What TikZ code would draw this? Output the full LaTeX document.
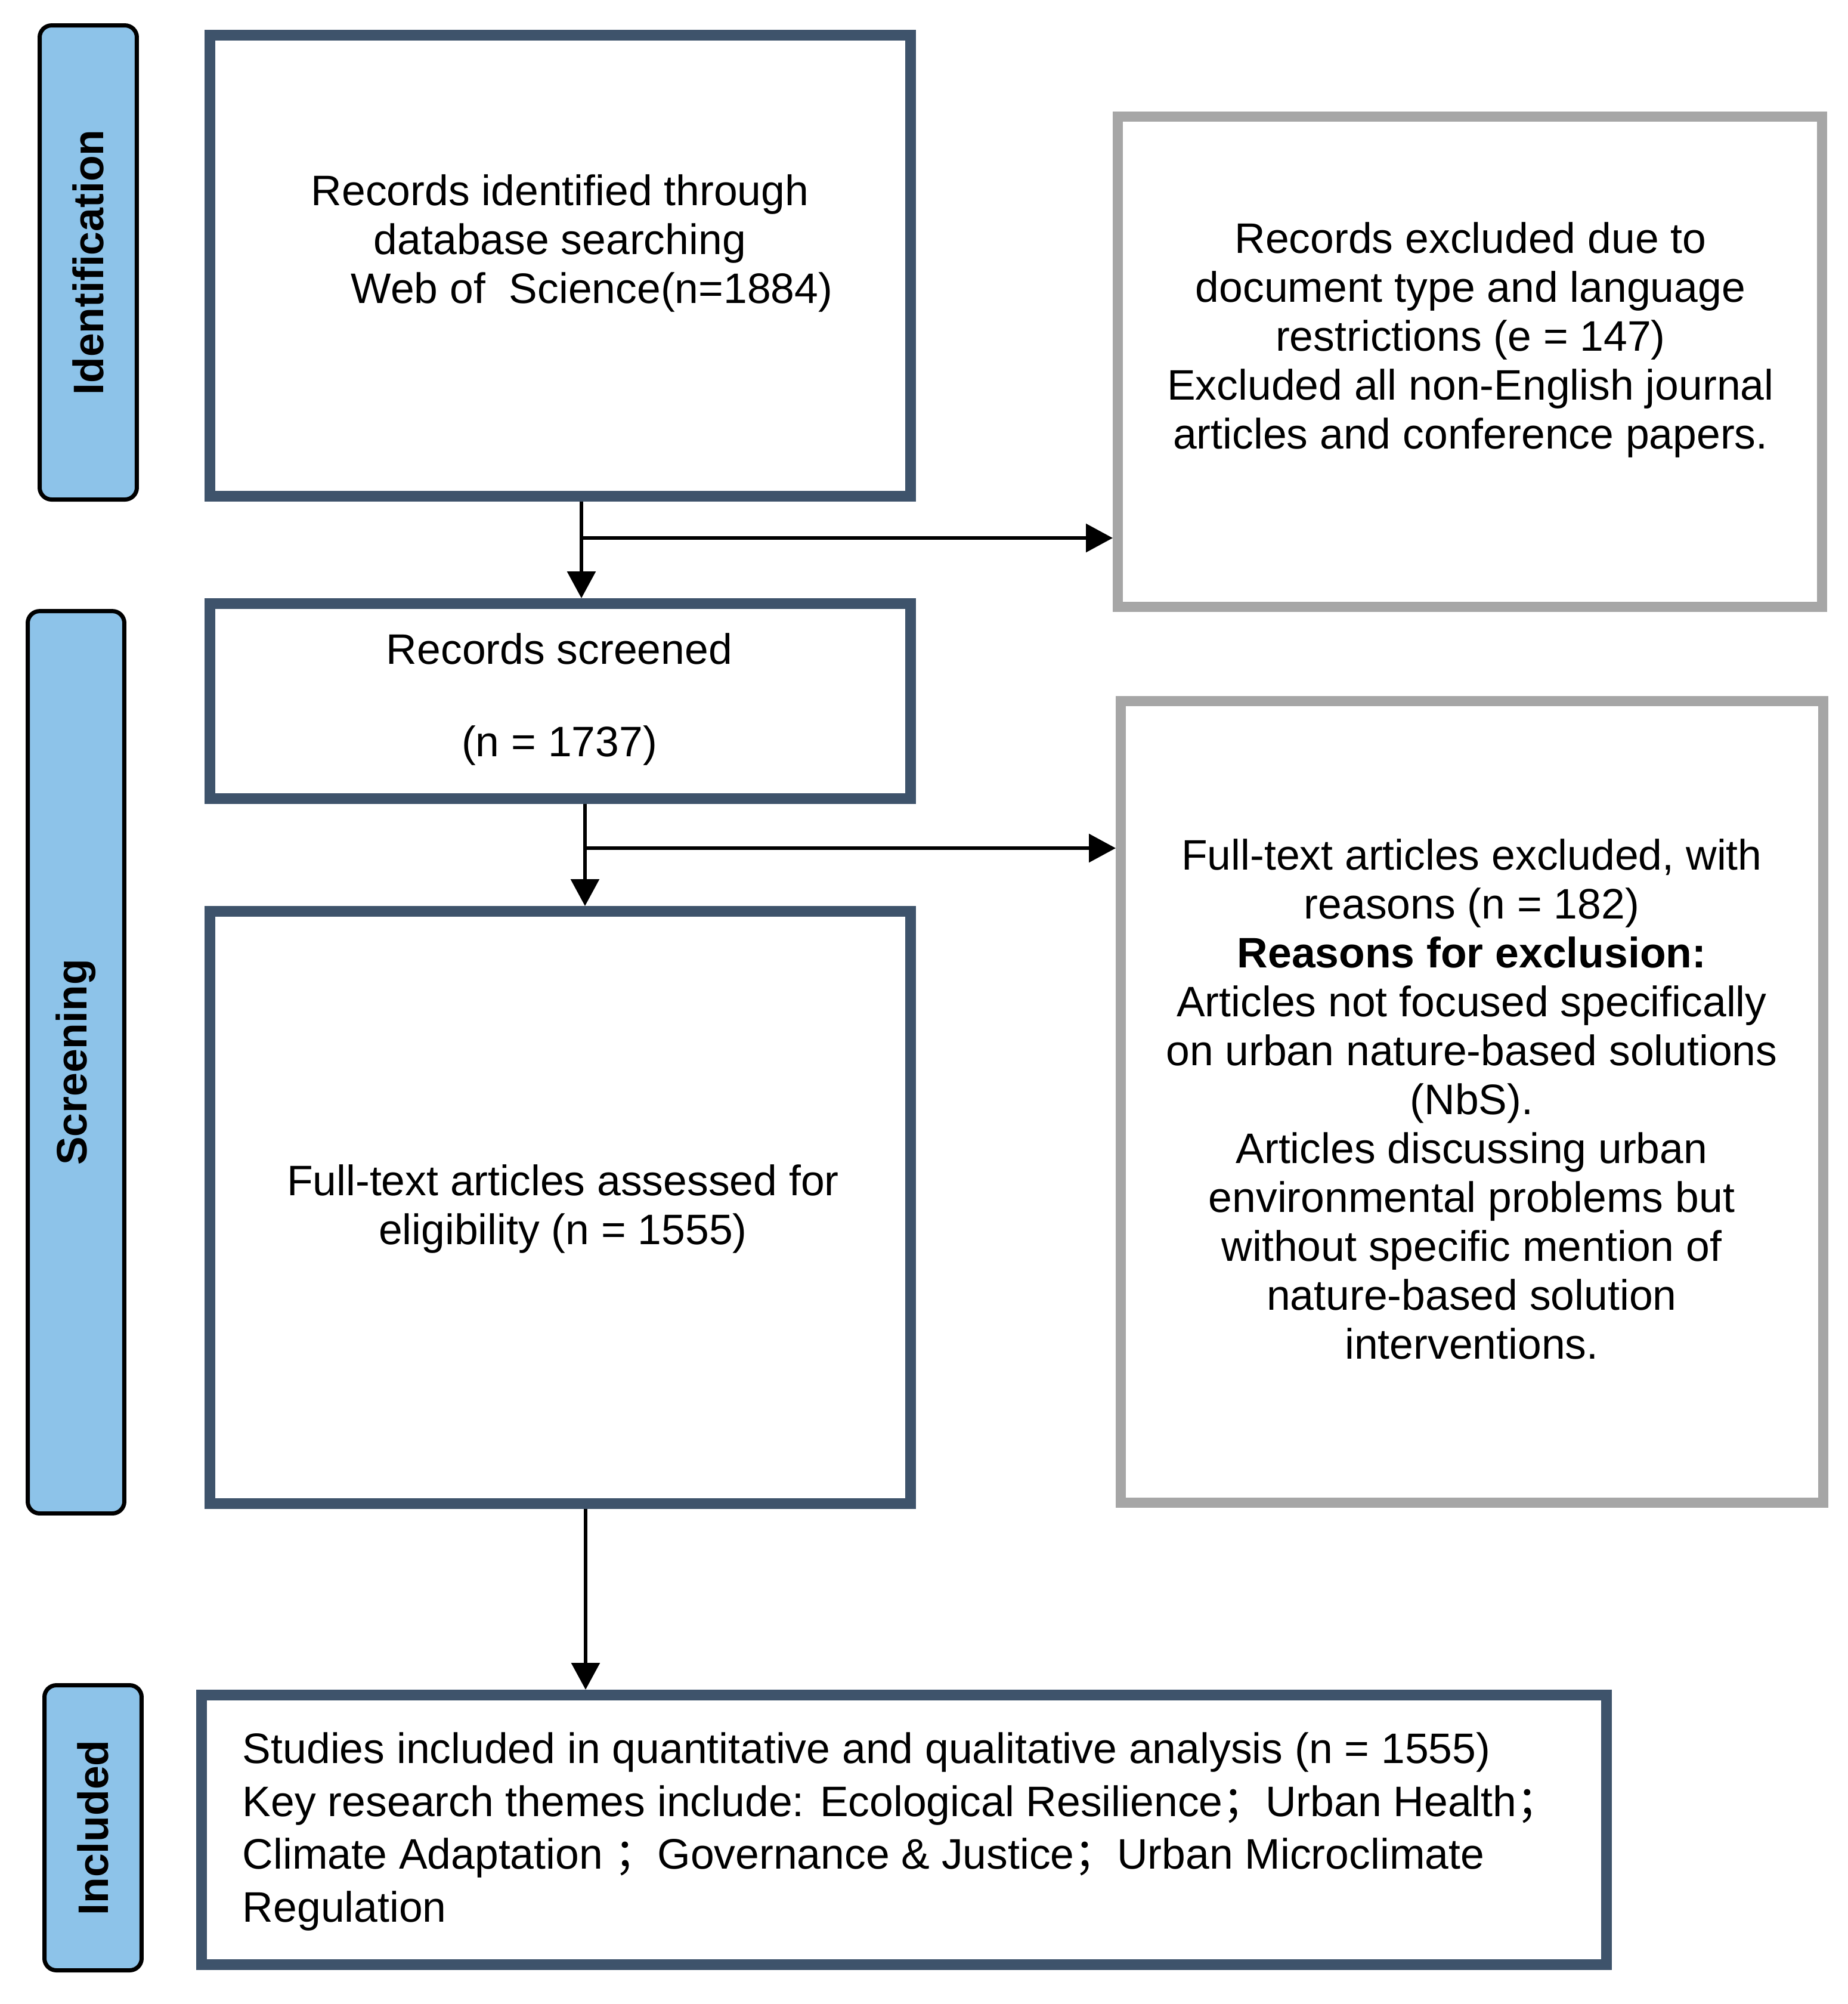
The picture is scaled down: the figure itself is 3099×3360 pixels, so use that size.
\documentclass[tikz,border=0pt]{standalone}
\usepackage{fontspec}
\setmainfont{Liberation Sans}
\newfontfamily\cjkf{Noto Sans CJK SC}
\usetikzlibrary{arrows.meta}
\definecolor{boxblue}{HTML}{3E536B}
\definecolor{tabfill}{HTML}{8DC3E9}
\definecolor{exgray}{HTML}{A6A6A6}
\begin{document}
\begin{tikzpicture}[x=0.1pt,y=-0.1pt,
  mainbox/.style={draw=boxblue,line width=1.8pt,fill=white,inner sep=0pt},
  graybox/.style={draw=exgray,line width=1.7pt,fill=white,inner sep=0pt},
  tab/.style={draw=black,line width=0.7pt,fill=tabfill,rounded corners=2pt,rotate=90,inner sep=0pt,
    font=\fontsize{7.15}{8.2}\selectfont\bfseries},
  txt/.style={inner sep=0pt,font=\fontsize{7.15}{8.2}\selectfont},
  arr/.style={draw=black,line width=0.6pt,-{Triangle[length=4.5pt,width=4.7pt]}}]
\useasboundingbox (0,0) rectangle (3099,3360);
% phase tabs
\node[tab,minimum width=79.5pt,minimum height=16.3pt] (tabI) at (148,440) {Identification};
\node[tab,minimum width=151.3pt,minimum height=16.2pt] (tabS) at (127.5,1781) {Screening};
\node[tab,minimum width=47.8pt,minimum height=16.3pt] (tabN) at (156,3064.5) {Included};
% main boxes
\node[mainbox,minimum width=117.5pt,minimum height=77.3pt] (b1) at (939.5,445.5) {};
\node[mainbox,minimum width=117.5pt,minimum height=32.7pt] (b2) at (939.5,1175.5) {};
\node[mainbox,minimum width=117.5pt,minimum height=99.3pt] (b3) at (939.5,2024.5) {};
\node[mainbox,minimum width=235.6pt,minimum height=45.2pt] (b4) at (1516,3068) {};
% exclusion boxes
\node[graybox,minimum width=118.1pt,minimum height=82.2pt] (r1) at (2465,606.5) {};
\node[graybox,minimum width=117.8pt,minimum height=134.4pt] (r2) at (2468.5,1847.5) {};
% texts
\node[txt,align=center] (t1) at (939,408) {Records identified through\\database searching\\\hspace*{1.5em}Web of\ \ Science(n=1884)};
\node[txt,align=center] (t2) at (938,1172) {Records screened\\[7.3pt](n = 1737)};
\node[txt,align=center] (t3) at (944,2027) {Full-text articles assessed for\\eligibility (n = 1555)};
\node[txt,align=center] (t4) at (2466,570) {Records excluded due to\\document type and language\\restrictions (e = 147)\\Excluded all non-English journal\\articles and conference papers.};
\node[txt,align=center] (t5) at (2468,1843) {Full-text articles excluded, with\\reasons (n = 182)\\\textbf{Reasons for exclusion:}\\Articles not focused specifically\\on urban nature-based solutions\\(NbS).\\Articles discussing urban\\environmental problems but\\without specific mention of\\nature-based solution\\interventions.};
\node[txt,align=left,anchor=west,font=\fontsize{7.15}{8.85}\selectfont] (t6) at (405,3071) {Studies included in quantitative and qualitative analysis (n = 1555)\\Key research themes include: Ecological Resilience{\cjkf ；}Urban Health{\cjkf ；}\\Climate Adaptation {\cjkf ；}Governance \& Justice{\cjkf ；}Urban Microclimate\\Regulation};
% connectors
\coordinate (j1) at (975,902);
\coordinate (j2) at (981,1422);
\coordinate (j3) at (982,2700);
\draw[arr] (b1.south -| j1) -- (b2.north -| j1);
\draw[arr] (j1) -- (r1.west |- j1);
\draw[arr] (b2.south -| j2) -- (b3.north -| j2);
\draw[arr] (j2) -- (r2.west |- j2);
\draw[arr] (b3.south -| j3) -- (b4.north -| j3);
\end{tikzpicture}
\end{document}
